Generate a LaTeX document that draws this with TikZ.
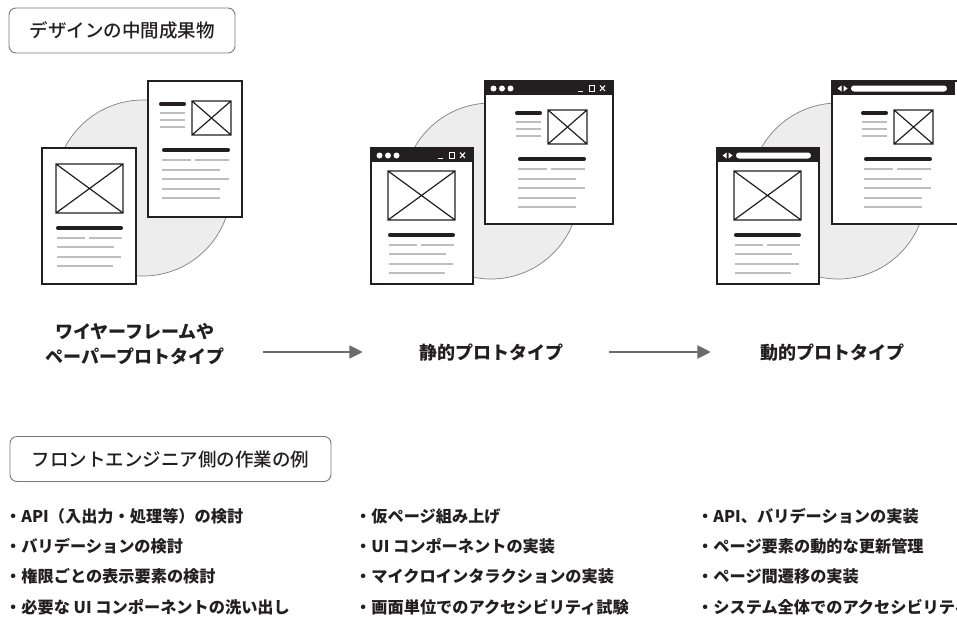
\documentclass[tikz,border=0pt]{standalone}
\usepackage{fontspec}
\usepackage{tikz}
\usetikzlibrary{arrows.meta}
\newfontfamily\jp{Noto Sans CJK JP}
\newfontfamily\jpm{Noto Sans CJK JP Medium}

\definecolor{inkc}{HTML}{231F20}
\definecolor{linegray}{HTML}{BEBEBE}
\definecolor{blobgray}{HTML}{EDEDED}
\definecolor{arrowgray}{HTML}{6B6B6B}
\definecolor{boxgray}{HTML}{777777}

\begin{document}
\begin{tikzpicture}[x=1pt, y=-1pt,
	sheet/.style={draw=inkc, line width=1.8pt, fill=white},
	imgbox/.style={draw=inkc, line width=1.2pt},
	headbar/.style={draw=inkc, line width=3.6pt, line cap=round},
	textline/.style={draw=linegray, line width=1.5pt},
	blob/.style={draw=gray, line width=0.7pt, fill=blobgray},
	tagbox/.style={draw=boxgray, rounded corners=7pt, line width=0.9pt, text=inkc,
		font=\jpm\fontsize{18.5}{22}\selectfont, minimum height=45pt},
	stage/.style={inner sep=0pt, align=center, text=inkc,
		font=\jp\bfseries\fontsize{18}{25}\selectfont},
	task/.style={anchor=west, inner sep=0pt, text=inkc,
		font=\jp\bfseries\fontsize{16.2}{16}\selectfont},
	flow/.style={draw=arrowgray, line width=2.2pt, -{Triangle[length=13.5pt,width=13pt]}},
	% page contents
	frontcontent/.pic={
		\draw[imgbox] (0,0) rectangle (67,49) (0,0) -- (67,49) (0,49) -- (67,0);
		\draw[headbar] (1.8,64) -- (65.2,64);
		\draw[textline] (1,74) -- (29,74) (33,74) -- (66,74) (1,83) -- (58,83)
			(1,93) -- (65,93) (1,102) -- (57,102);
	},
	backcontent/.pic={
		\draw[headbar] (1.8,3) -- (25.2,3);
		\draw[textline] (1,12) -- (26,12) (1,19) -- (26,19) (1,26) -- (26,26);
		\draw[imgbox] (33,0) rectangle (72,34) (33,0) -- (72,34) (33,34) -- (72,0);
		\draw[headbar] (4.8,49) -- (69.2,49);
		\draw[textline] (3,59) -- (32,59) (36,59) -- (70,59) (3,69) -- (61,69)
			(3,78) -- (70,78) (3,88) -- (61,88) (3,97) -- (61,97);
	},
	% window title bars
	pics/dotsbar/.style={code={
		\fill[inkc] (0,0) rectangle (#1,14);
		\fill[white] (8.5,7.5) circle[radius=3pt] (17,7.5) circle[radius=3pt]
			(25.5,7.5) circle[radius=3pt];
		\draw[white, line width=1pt] (#1-35,10) -- (#1-30,10);
		\draw[white, line width=1pt] (#1-24,4.5) rectangle (#1-19,10);
		\draw[white, line width=1pt] (#1-13,4.5) -- (#1-8,10) (#1-13,10) -- (#1-8,4.5);
	}},
	pics/navbar/.style={code={
		\fill[inkc] (0,0) rectangle (#1,14);
		\fill[white] (5.5,7.5) -- (9.5,4.5) -- (9.5,10.5) -- cycle
			(11.5,4.5) -- (15.5,7.5) -- (11.5,10.5) -- cycle;
		\fill[white, rounded corners=3pt] (19,4.5) rectangle (#1-8,10.5);
	}}]
	\useasboundingbox (0,0) rectangle (957,621);

	% Headings
	\node[tagbox, minimum width=226pt] (outputs) at (122,30.5) {デザインの中間成果物};
	\node[tagbox, minimum width=321pt] (tasks) at (170.5,459) {フロントエンジニア側の作業の例};

	% Wireframe pages
	\draw[blob] (143,188) circle[radius=88pt];
	\draw[sheet] (148,81) rectangle (242,217);
	\pic at (159,101) {backcontent};
	\draw[sheet] (42,148) rectangle (136,284);
	\pic at (56,164) {frontcontent};

	% Static prototype windows
	\draw[blob] (491,191) circle[radius=88pt];
	\draw[sheet] (485,81) rectangle (613,224);
	\pic at (485,81) {dotsbar=128};
	\pic at (515,110) {backcontent};
	\draw[sheet] (371,148) rectangle (473,284);
	\pic at (371,148) {dotsbar=102};
	\pic at (388,171) {frontcontent};

	% Dynamic prototype windows
	\draw[blob] (838,191) circle[radius=88pt];
	\draw[sheet] (832,81) rectangle (960,224);
	\pic at (832,81) {navbar=123};
	\pic at (861,110) {backcontent};
	\draw[sheet] (717,148) rectangle (819,284);
	\pic at (717,148) {navbar=102};
	\pic at (734,171) {frontcontent};

	% Stages
	\node[stage] (wire) at (135,344) {ワイヤーフレームや\\ペーパープロトタイプ};
	\node[stage] (static) at (491,353) {静的プロトタイプ};
	\node[stage] (dynamic) at (832,353) {動的プロトタイプ};

	% Draw arrows
	\draw[flow, shorten <=38pt, shorten >=56pt] (wire.east |- 0,352) -- (static.west |- 0,352);
	\draw[flow, shorten <=46pt, shorten >=49pt] (static.east |- 0,352) -- (dynamic.west |- 0,352);

	% Task lists
	\foreach \txt [count=\i] in {・API（入出力・処理等）の検討, ・バリデーションの検討,
		・権限ごとの表示要素の検討, ・必要な UI コンポーネントの洗い出し}
		\node[task] (plan\i) at (5,485.7+30.3*\i) {\txt};
	\foreach \txt [count=\i] in {・仮ページ組み上げ, ・UI コンポーネントの実装,
		・マイクロインタラクションの実装, ・画面単位でのアクセシビリティ試験}
		\node[task] (build\i) at (355,485.7+30.3*\i) {\txt};
	\foreach \txt [count=\i] in {・API、バリデーションの実装, ・ページ要素の動的な更新管理,
		・ページ間遷移の実装, ・システム全体でのアクセシビリティ}
		\node[task] (run\i) at (697,485.7+30.3*\i) {\txt};
\end{tikzpicture}
\end{document}
